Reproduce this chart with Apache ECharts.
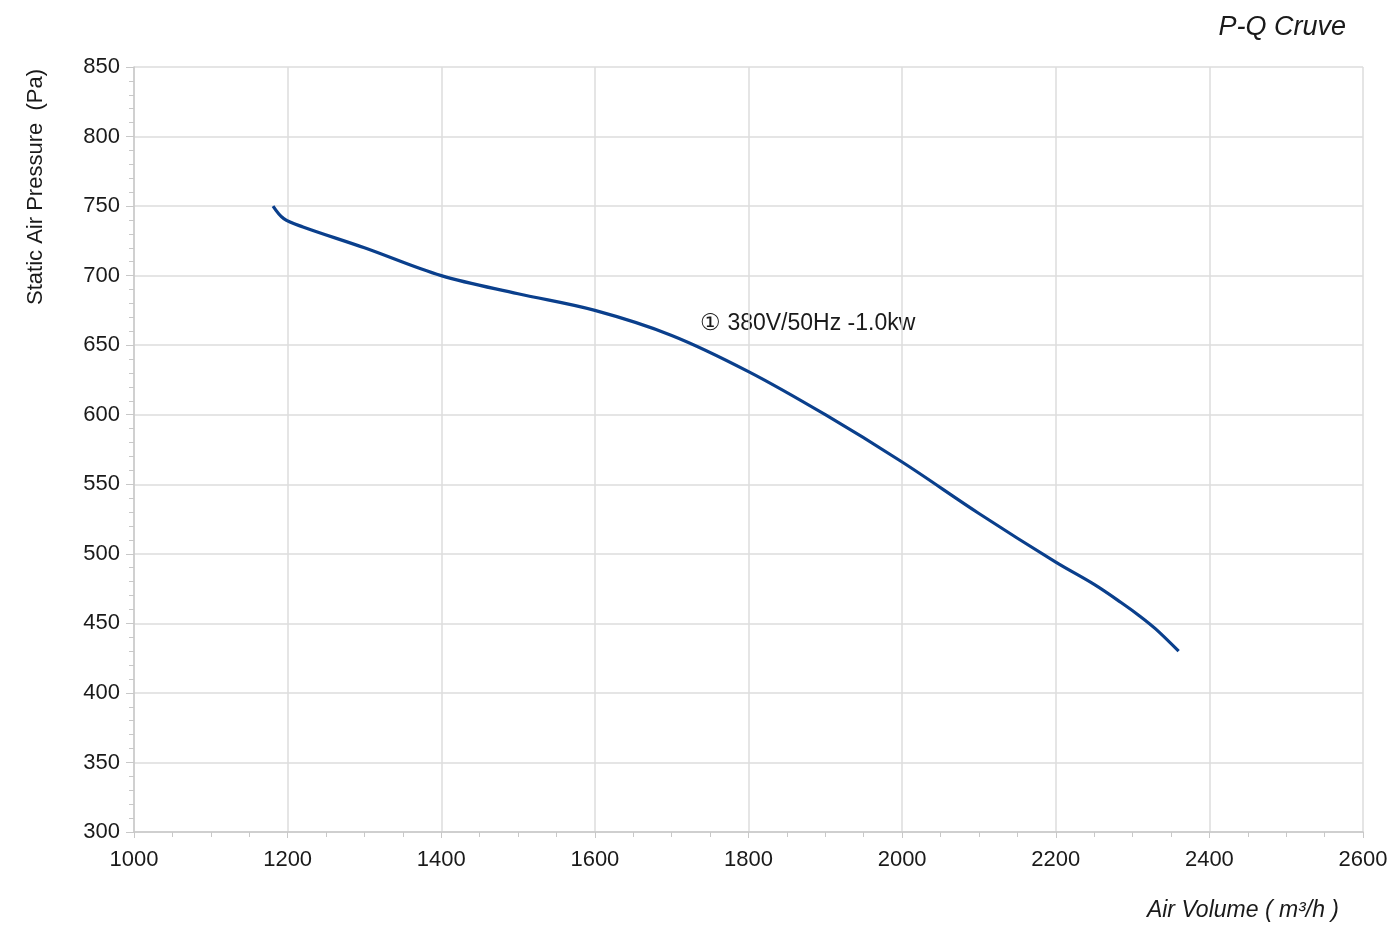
<!DOCTYPE html>
<html>
<head>
<meta charset="utf-8">
<script src="https://cdn.jsdelivr.net/npm/echarts@6/dist/echarts.min.js"></script>
<style>
  html, body { margin: 0; padding: 0; background: #fff; }
  #pq_chart { width: 1391px; height: 929px; }
</style>
</head>
<body>
<div id="pq_chart"></div>
<script>
// air volume (m3/h) and static pressure (Pa)
var airVolume = [1181, 1195, 1220, 1300, 1400, 1500, 1600, 1700, 1800, 1900, 2000, 2100, 2200, 2250, 2285, 2310, 2330, 2360];
var pressure  = [750, 741, 735, 720, 700, 687, 675, 657, 631, 600, 566, 529, 494, 478, 465, 455, 446, 430];
var curveName = '① 380V/50Hz -1.0kw';

var points = airVolume.map(function (v, i) { return [v, pressure[i]]; });

var axisGray = '#c8c8c8';
var font = 'Liberation Sans';
var pq_option = {
    animation: false,
    backgroundColor: '#fff',
    grid: { left: 134, right: 28, top: 67, bottom: 97 },
    title: {
        text: 'P-Q Cruve',
        right: 40, top: 9,
        textStyle: { fontFamily: font, fontStyle: 'italic', fontWeight: 'normal', fontSize: 27, color: '#1a1a1a' }
    },
    xAxis: {
        type: 'value', min: 1000, max: 2600, interval: 200,
        axisLine: { lineStyle: { color: axisGray, width: 1.5 } },
        axisTick: { length: 6, lineStyle: { color: axisGray } },
        minorTick: { show: true, splitNumber: 4, length: 5, lineStyle: { color: axisGray } },
        splitLine: { lineStyle: { color: '#dcdcdc', width: 1.5 } },
        axisLabel: {
            fontFamily: font, fontSize: 22, color: '#1a1a1a', margin: 17,
            formatter: function (v) { return String(v); }
        }
    },
    yAxis: {
        type: 'value', min: 300, max: 850, interval: 50,
        axisLine: { show: true, lineStyle: { color: axisGray, width: 1.5 } },
        axisTick: { show: true, length: 8, lineStyle: { color: axisGray } },
        minorTick: { show: true, splitNumber: 5, length: 5, lineStyle: { color: axisGray } },
        splitLine: { lineStyle: { color: '#dcdcdc', width: 1.5 } },
        axisLabel: { fontFamily: font, fontSize: 22, color: '#1a1a1a', margin: 14 }
    },
    graphic: [
        {
            type: 'text', x: 36, y: 187, rotation: Math.PI / 2,
            style: { text: 'Static Air Pressure  (Pa)', fontFamily: font, fontSize: 22, fill: '#1a1a1a', align: 'center', verticalAlign: 'middle' }
        },
        {
            type: 'text', right: 52, top: 899,
            style: { text: 'Air Volume ( m³/h )', fontFamily: font, fontStyle: 'italic', fontSize: 23, fill: '#1a1a1a' }
        },
        {
            type: 'text', left: 700, top: 312,
            style: { text: curveName, fontFamily: font, fontSize: 23, fill: '#1a1a1a' }
        }
    ],
    series: [
        {
            name: curveName,
            type: 'line',
            smooth: 0.35,
            symbol: 'none',
            lineStyle: { color: '#0a3f8c', width: 3.2 },
            data: points
        }
    ]
};

echarts.init(document.getElementById('pq_chart')).setOption(pq_option);
</script>
</body>
</html>
